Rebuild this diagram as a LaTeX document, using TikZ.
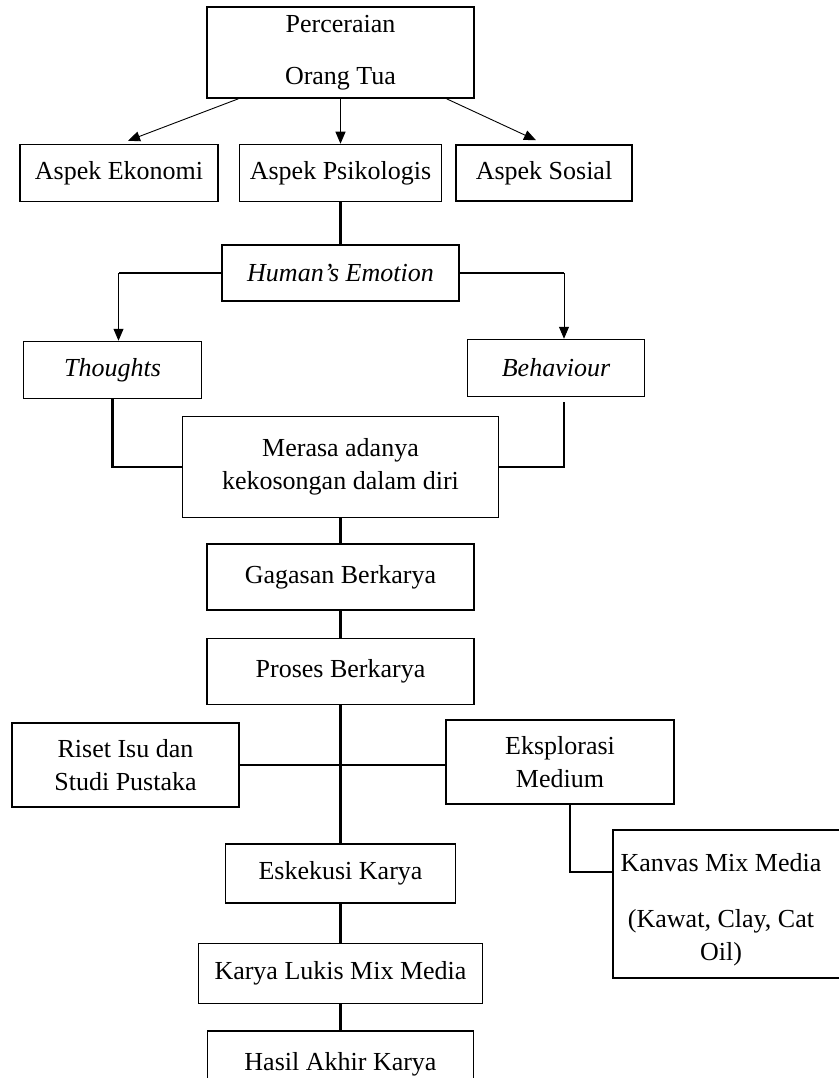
\documentclass[tikz,border=0pt]{standalone}
\usepackage{fontspec}
\setmainfont{Liberation Serif}
\usetikzlibrary{arrows.meta,positioning}

\begin{document}
\begin{tikzpicture}[
    x=1pt, y=-1pt,
    node distance=40pt,
    font=\fontsize{26}{33}\selectfont,
    box/.style={draw, line width=1.5pt, align=center, inner sep=0pt},
    link/.style={line width=2.7pt},
    arrow/.style={line width=0.9pt, -{Triangle[width=10pt,length=12pt]}},
  ]
  \useasboundingbox (0,0) rectangle (838,1078);

  \node[box, minimum width=267pt, minimum height=91pt] (divorce) at (340.5,52.5) {Perceraian\\[19pt]Orang Tua};
  \node[box, minimum width=202pt, minimum height=57pt, below=45pt of divorce] (psycho) {Aspek Psikologis};
  \node[box, minimum width=198pt, minimum height=57pt, left=20pt of psycho] (economy) {Aspek Ekonomi};
  \node[box, minimum width=176pt, minimum height=56pt, right=13pt of psycho] (social) {Aspek Sosial};
  \node[box, minimum width=237pt, minimum height=56pt, below=42pt of psycho] (emotion) {\itshape Human’s Emotion};
  \node[box, minimum width=178pt, minimum height=57pt, below left=39pt and 19pt of emotion] (thoughts) {\itshape Thoughts};
  \node[box, minimum width=177pt, minimum height=57pt, below right=37pt and 7pt of emotion] (behaviour) {\itshape Behaviour};
  \node[box, minimum width=316pt, minimum height=101pt, below=114pt of emotion] (empty) {Merasa adanya\\kekosongan dalam diri};
  \node[box, minimum width=267pt, minimum height=66pt, below=25pt of empty] (idea) {Gagasan Berkarya};
  \node[box, minimum width=267pt, minimum height=66pt, below=27pt of idea] (process) {Proses Berkarya};
  \node[box, minimum width=227pt, minimum height=84pt] (research) at (125.5,765) {Riset Isu dan\\Studi Pustaka};
  \node[box, minimum width=228pt, minimum height=84pt] (medium) at (560,762) {Eksplorasi\\Medium};
  \node[box, minimum width=230pt, minimum height=59pt, below=138pt of process] (execution) {Eskekusi Karya};
  \node[box, minimum width=284pt, minimum height=60pt, below=39pt of execution] (painting) {Karya Lukis Mix Media};
  \node[box, minimum width=266pt, minimum height=66pt, below=26pt of painting] (result) {Hasil Akhir Karya};
  \node[align=center, inner sep=0pt, minimum width=216pt, minimum height=148pt] (canvas) at (721,910) {Kanvas Mix Media\\[23pt](Kawat, Clay, Cat\\Oil)};
  \draw[line width=1.5pt] ([yshift=6pt]canvas.north west) rectangle ([xshift=30pt,yshift=6pt]canvas.south east);

  % divorce splits into three aspects
  \draw[arrow] ([xshift=-102pt]divorce.south) -- ([xshift=9pt,yshift=3pt]economy.north);
  \draw[arrow] (divorce) -- (psycho);
  \draw[arrow] ([xshift=106pt]divorce.south) -- ([xshift=-8pt,yshift=4pt]social.north);
  \draw[link] (psycho) -- (emotion);

  \coordinate (left turn) at ([xshift=6pt]emotion.west -| thoughts.north);
  \coordinate (right turn) at ([xshift=8pt]emotion.east -| behaviour.north);
  \draw[link] (emotion.west) -- (left turn);
  \draw[arrow] (left turn) -- ([xshift=6pt]thoughts.north);
  \draw[link] (emotion.east) -- (right turn);
  \draw[arrow] (right turn) -- ([xshift=8pt]behaviour.north);

  \draw[link] (thoughts.south) |- (empty.west);
  \draw[link] ([xshift=8pt,yshift=-5pt]behaviour.south) |- (empty.east);

  % main line
  \draw[link] (empty) -- (idea);
  \draw[link] (idea) -- (process);
  \draw[link] (process) -- (execution);
  \draw[link] (research.east) -- (research.east -| medium.west);
  \draw[link] ([xshift=10pt]medium.south) |- ([yshift=38pt]canvas.west);
  \draw[link] (execution) -- (painting);
  \draw[link] (painting) -- (result);
\end{tikzpicture}
\end{document}
